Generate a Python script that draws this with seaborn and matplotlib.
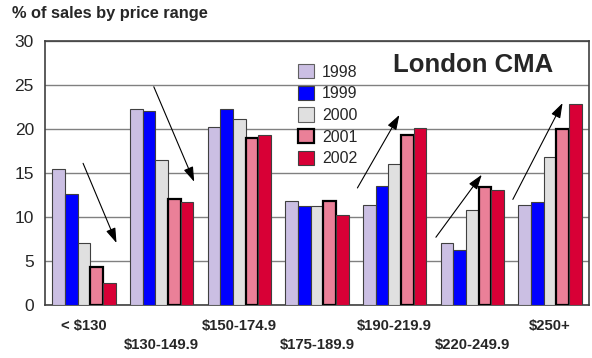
import matplotlib
matplotlib.use("Agg")
import matplotlib.pyplot as plt
from matplotlib.patches import Patch
import seaborn as sns
import pandas as pd

ranges = ["< $130", "$130-149.9", "$150-174.9", "$175-189.9",
          "$190-219.9", "$220-249.9", "$250+"]
years = ["1998", "1999", "2000", "2001", "2002"]
v1998 = [15.4, 22.3, 20.2, 11.8, 11.4, 7.0, 11.4]
v1999 = [12.6, 22.0, 22.3, 11.2, 13.5, 6.3, 11.7]
v2000 = [7.1, 16.5, 21.1, 11.3, 16.0, 10.8, 16.8]
v2001 = [4.3, 12.0, 19.0, 11.8, 19.3, 13.4, 20.0]
v2002 = [2.5, 11.7, 19.3, 10.2, 20.1, 13.1, 22.8]
colors = ["#cbbfe3", "#0000ff", "#e0e0e0", "#ea8098", "#d80036"]

series = [v1998, v1999, v2000, v2001, v2002]
rows = []
for y, vals in zip(years, series):
    for r, v in zip(ranges, vals):
        rows.append({"range": r, "year": y, "pct": v})
df = pd.DataFrame(rows)

sns.set_style("white")
plt.rcParams["font.family"] = ["Liberation Sans", "DejaVu Sans"]

fig = plt.figure(figsize=(5.92, 3.58), dpi=100)
ax = fig.add_axes([45/592, 1-305/358, 544/592, 264/358])

sns.barplot(data=df, x="range", y="pct", hue="year", order=ranges,
            hue_order=years, palette=colors, width=0.815, saturation=1,
            edgecolor="#404040", linewidth=0.8, legend=False, ax=ax, zorder=3)
for i, cont in enumerate(ax.containers):
    if years[i] == "2001":
        for b in cont:
            b.set_edgecolor("black")
            b.set_linewidth(1.6)

ax.set_xlim(-0.5, 6.5)
ax.set_ylim(0, 30)
ax.set_yticks(range(0, 31, 5))
ax.set_yticks([2.5 + 5*i for i in range(6)], minor=True)
ax.yaxis.grid(True, color="#808080", lw=1.0, zorder=0)
ax.set_axisbelow(True)
for s in ax.spines.values():
    s.set_color("#404040")
    s.set_linewidth(1.2)
ax.tick_params(axis="y", which="both", direction="in", length=5,
               color="#404040", labelsize=12.5, pad=8)
ax.tick_params(axis="x", direction="in", length=5, color="#404040", pad=10)
labels = [r if i % 2 == 0 else "\n" + r for i, r in enumerate(ranges)]
ax.set_xticks(range(len(ranges)))
ax.set_xticklabels(labels, fontsize=10.7, fontweight="bold", linespacing=1.45)
ax.set_xlabel("")
ax.set_ylabel("")

edges = ["#606060", "#404040", "#606060", "black", "#404040"]
lws = [0.8, 0.8, 0.8, 1.6, 0.8]
handles = [Patch(facecolor=c, edgecolor=e, linewidth=w)
           for c, e, w in zip(colors, edges, lws)]
fig.legend(handles, years, loc="upper left",
           bbox_to_anchor=(298/592, 1-64/358), bbox_transform=fig.transFigure,
           frameon=False, fontsize=11.5, handlelength=1.0, handleheight=1.0,
           handletextpad=0.5, labelspacing=0.38, borderpad=0, borderaxespad=0)

fig.text(393/592, 1-72/358, "London CMA", fontsize=18.5, fontweight="bold",
         va="baseline", ha="left")
fig.text(12/592, 1-18/358, "% of sales by price range", fontsize=11.8,
         fontweight="bold", va="baseline", ha="left")

arrows = [((-0.01, 16.1), (0.42, 7.05)),
          ((0.90, 24.8), (1.42, 14.0)),
          ((3.52, 13.3), (4.06, 21.6)),
          ((4.53, 7.7), (5.12, 14.8)),
          ((5.52, 12.0), (6.16, 22.95))]
for start, end in arrows:
    ax.annotate("", xy=end, xytext=start,
                arrowprops=dict(arrowstyle="-|>,head_length=0.6,head_width=0.2",
                                color="black", lw=0.8, mutation_scale=15,
                                shrinkA=0, shrinkB=0), zorder=5)

fig.savefig("out.png", dpi=100)
